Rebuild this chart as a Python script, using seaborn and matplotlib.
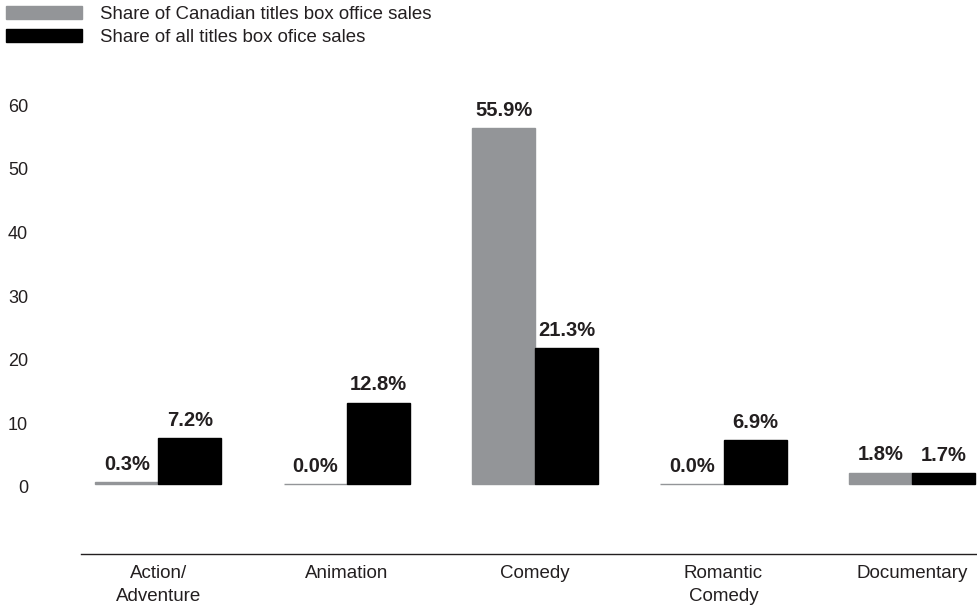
import matplotlib
matplotlib.use("Agg")
import matplotlib.pyplot as plt
import matplotlib.transforms as mtransforms
import numpy as np
import pandas as pd
import seaborn as sns

# data
genres = ["Action/\nAdventure", "Animation", "Comedy", "Romantic\nComedy", "Documentary"]
canadian_share = [0.3, 0.0, 55.9, 0.0, 1.8]
all_share = [7.2, 12.8, 21.3, 6.9, 1.7]
series_names = ["Share of Canadian titles box office sales", "Share of all titles box ofice sales"]
y_ticks = [0, 10, 20, 30, 40, 50, 60]

palette = {series_names[0]: "#939598", series_names[1]: "#000000"}
text_color = "#231f20"

df = pd.DataFrame(
    {
        "genre": genres * 2,
        "share": canadian_share + all_share,
        "series": [series_names[0]] * len(genres) + [series_names[1]] * len(genres),
    }
)

sns.set_theme(style="white")
plt.rcParams["font.family"] = ["Liberation Sans", "DejaVu Sans"]

fig = plt.figure(figsize=(9.77, 6.08), dpi=100)
ax = fig.add_axes([81 / 977, 1 - 554 / 608, 1 - 81 / 977, (554 - 90) / 608])

sns.barplot(
    data=df,
    x="genre",
    y="share",
    hue="series",
    order=genres,
    hue_order=series_names,
    palette=palette,
    width=0.67,
    saturation=1,
    linewidth=1.0,
    ax=ax,
)
# edge in same colour so the 0.0 bars still show as a thin line
for patch in ax.patches:
    patch.set_edgecolor(patch.get_facecolor())

for container in ax.containers:
    ax.bar_label(
        container,
        labels=[f"{v:.1f}%" for v in container.datavalues],
        padding=6,
        fontsize=14.5,
        fontweight="bold",
        color=text_color,
    )

ax.set_xlim(-0.41, 4.345)
ax.set_ylim(-11.0, 61.9)
ax.set_yticks(y_ticks)
ax.set_yticklabels([str(t) for t in y_ticks])
ax.tick_params(axis="y", length=0, pad=38, labelsize=13, labelcolor=text_color)
ax.tick_params(axis="x", length=0, pad=8, labelsize=13.5, labelcolor=text_color)
for lbl in ax.get_xticklabels():
    lbl.set_linespacing(1.45)
ax.set_xlabel("")
ax.set_ylabel("")

# y labels sit a little lower than the bar baseline in the original
shift = mtransforms.ScaledTranslation(0, -3 / 100, fig.dpi_scale_trans)
for lbl in ax.get_yticklabels():
    lbl.set_transform(lbl.get_transform() + shift)

sns.despine(ax=ax, left=True, right=True, top=True)
ax.spines["bottom"].set_color("#231f20")
ax.spines["bottom"].set_linewidth(1.0)

ax.get_legend().remove()
handles = [plt.Rectangle((0, 0), 1, 1, color=palette[s]) for s in series_names]
fig.legend(
    handles,
    series_names,
    loc="upper left",
    bbox_to_anchor=(0.0, 1.0),
    frameon=False,
    fontsize=13.4,
    handlelength=4.1,
    handleheight=0.7,
    handletextpad=1.0,
    labelspacing=0.35,
    borderaxespad=0.0,
    borderpad=0.3,
    labelcolor=text_color,
)

fig.savefig("out.png", dpi=100)
